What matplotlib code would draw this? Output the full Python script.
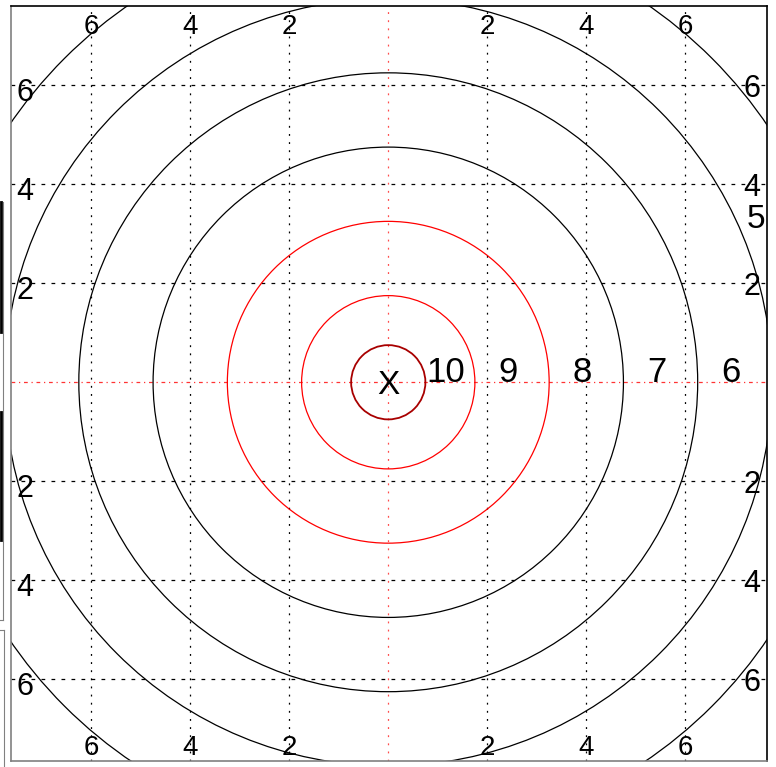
import matplotlib.pyplot as plt
from matplotlib.patches import Circle
from matplotlib.lines import Line2D
import matplotlib.transforms as mtransforms

plt.rcParams['font.family'] = ['Liberation Sans', 'DejaVu Sans']

# Datos del blanco
ring_scores = [10, 9, 8, 7, 6, 5]
ring_radii = [1.75, 3.25, 4.75, 6.25, 7.75, 9.25]
ring_colors = ['red', 'red', 'black', 'black', 'black', 'black']
x_radius = 0.75
grid_ticks = [-6, -4, -2, 2, 4, 6]
tick_labels = ['6', '4', '2', '2', '4', '6']

fig = plt.figure(figsize=(7.76, 7.67), dpi=100)
W, H = 776, 767
ax = fig.add_axes([11 / W, 6 / H, 756 / W, 755 / H])
ax.set_xlim(-7.62, 7.65)
ax.set_ylim(-7.65, 7.60)
ax.set_xticks([])
ax.set_yticks([])
for s in ['left', 'bottom']:
    ax.spines[s].set_color('#808080')
    ax.spines[s].set_linewidth(1.2)
for s in ['top', 'right']:
    ax.spines[s].set_color('black')
    ax.spines[s].set_linewidth(1.2)

# Rejilla punteada
for t in grid_ticks:
    ax.axvline(t, color='black', lw=0.9, linestyle=(0, (1.5, 5)), zorder=1)
    ax.axhline(t, color='black', lw=0.9, linestyle=(0, (3, 5)), zorder=1)
# Ejes centrales en rojo
ax.axvline(0, color='red', lw=0.9, alpha=0.7, linestyle=(0, (1.5, 5)), zorder=1)
ax.axhline(0, color='red', lw=0.9, alpha=0.8, linestyle=(0, (3, 3, 1, 3)), zorder=1)

# Anillos
for r, c in zip(ring_radii, ring_colors):
    ax.add_patch(Circle((0, 0), r, fill=False, edgecolor=c, lw=0.9, zorder=2))
ax.add_patch(Circle((0, 0), x_radius, fill=False, edgecolor='#a80000', lw=1.3, zorder=2))

# Etiquetas de puntuación
inner = [x_radius] + ring_radii[:-1]
for s, r0, r1 in zip(ring_scores[:-1], inner[:-1], ring_radii[:-1]):
    ax.text((r0 + r1) / 2 - 0.08, 0, str(s), fontsize=25, ha='center', va='baseline', zorder=3)
ax.text(7.43, 3.12, str(ring_scores[-1]), fontsize=24, ha='center', va='baseline', zorder=3)
ax.annotate('X', xy=(0, 0), xytext=(0, -8.6), textcoords='offset points',
            fontsize=24, ha='center', va='baseline', zorder=3)

# Etiquetas de los ejes, dentro del área
tx = mtransforms.blended_transform_factory(ax.transData, ax.transAxes)
ty = mtransforms.blended_transform_factory(ax.transAxes, ax.transData)
for t, lab in zip(grid_ticks, tick_labels):
    ax.annotate(lab, xy=(t, 1), xycoords=tx, xytext=(0, -6), textcoords='offset points',
                fontsize=20, ha='center', va='top')
    ax.annotate(lab, xy=(t, 0), xycoords=tx, xytext=(0, 4.3), textcoords='offset points',
                fontsize=20, ha='center', va='baseline')
    ax.annotate(lab, xy=(0, t), xycoords=ty, xytext=(4, -3), textcoords='offset points',
                fontsize=22, ha='left', va='center_baseline')
    ax.annotate(lab, xy=(1, t), xycoords=ty, xytext=(-5, 0), textcoords='offset points',
                fontsize=22, ha='right', va='center_baseline')

# Restos del marco a la izquierda
def fig_line(x0, y0, x1, y1, **kw):
    fig.add_artist(Line2D([x0 / W, x1 / W], [1 - y0 / H, 1 - y1 / H],
                          transform=fig.transFigure, **kw))

fig_line(1, 202, 1, 332, color='black', lw=2)
fig_line(1, 412, 1, 540, color='black', lw=2)
fig_line(3, 202, 3, 620, color='#808080', lw=0.8)
fig_line(0, 620, 3, 620, color='#808080', lw=0.8)
fig_line(4, 630, 4, 767, color='#808080', lw=0.8)
fig_line(0, 630, 4, 630, color='#808080', lw=0.8)

fig.savefig('out.png', dpi=100)
